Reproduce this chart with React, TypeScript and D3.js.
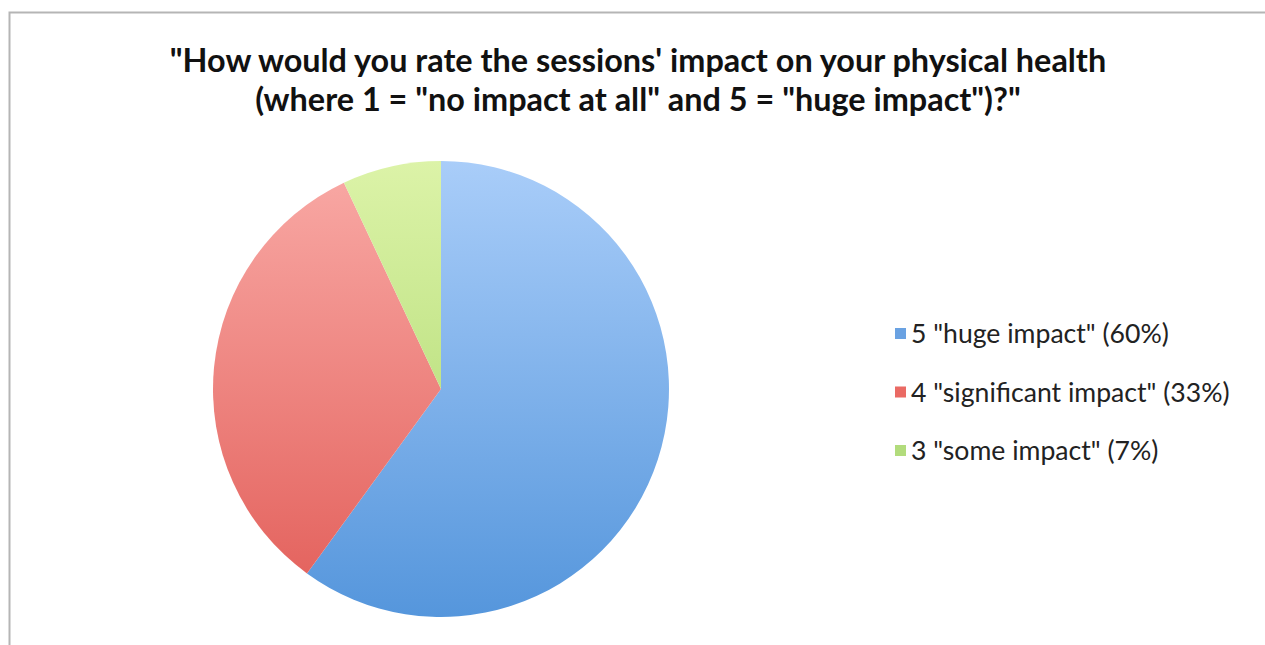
import React from "react";
import * as d3 from "d3";

const titleLines = [
  "\"How would you rate the sessions' impact on your physical health",
  "(where 1 = \"no impact at all\" and 5 = \"huge impact\")?\"",
];
const categories = ["5 \"huge impact\" (60%)", "4 \"significant impact\" (33%)", "3 \"some impact\" (7%)"];
const values = [60, 33, 7];
const lightColors = ["#a9cdf9", "#f9aaa6", "#dcf3a8"];
const darkColors = ["#5596dc", "#e25d58", "#a6d466"];
const legendColors = ["#6aa2e2", "#ea6a64", "#b2dc7c"];

export default function App() {
  const W = 1265, H = 645;
  const cx = 441, cy = 389, r = 228;
  const pie = d3.pie<number>().sort(null).value((d) => d)(values);
  const arc = d3.arc<d3.PieArcDatum<number>>().innerRadius(0).outerRadius(r);
  const legendY = d3.scalePoint<string>().domain(categories).range([334, 451]);
  const font = "Lato, 'Open Sans', sans-serif";
  return (
    <svg width={W} height={H} style={{ position: "absolute", left: 0, top: 0 }}>
      <defs>
        {values.map((_, i) => (
          <linearGradient key={i} id={`g${i}`} gradientUnits="userSpaceOnUse" x1={0} y1={-r} x2={0} y2={r}>
            <stop offset="0" stopColor={lightColors[i]} />
            <stop offset="1" stopColor={darkColors[i]} />
          </linearGradient>
        ))}
      </defs>
      <rect x={0} y={0} width={W} height={H} fill="#fff" />
      <rect x={9.5} y={12.5} width={W + 20} height={H + 20} fill="none" stroke="#b5b5b5" strokeWidth={2} />
      {titleLines.map((t, i) => (
        <text key={i} x={638} y={72 + i * 39} textAnchor="middle" fontFamily={font} fontWeight="bold" fontSize={32.4} fill="#111">
          {t}
        </text>
      ))}
      <g transform={`translate(${cx},${cy})`}>
        {pie.map((p, i) => (
          <path key={i} d={arc(p) || ""} fill={`url(#g${i})`} />
        ))}
      </g>
      {categories.map((c, i) => (
        <g key={c} transform={`translate(895,${legendY(c)})`}>
          <rect x={0} y={-6} width={11} height={11} fill={legendColors[i]} />
          <text x={16} y={9} fontFamily={font} fontSize={26.6} fill="#222">{c}</text>
        </g>
      ))}
    </svg>
  );
}
